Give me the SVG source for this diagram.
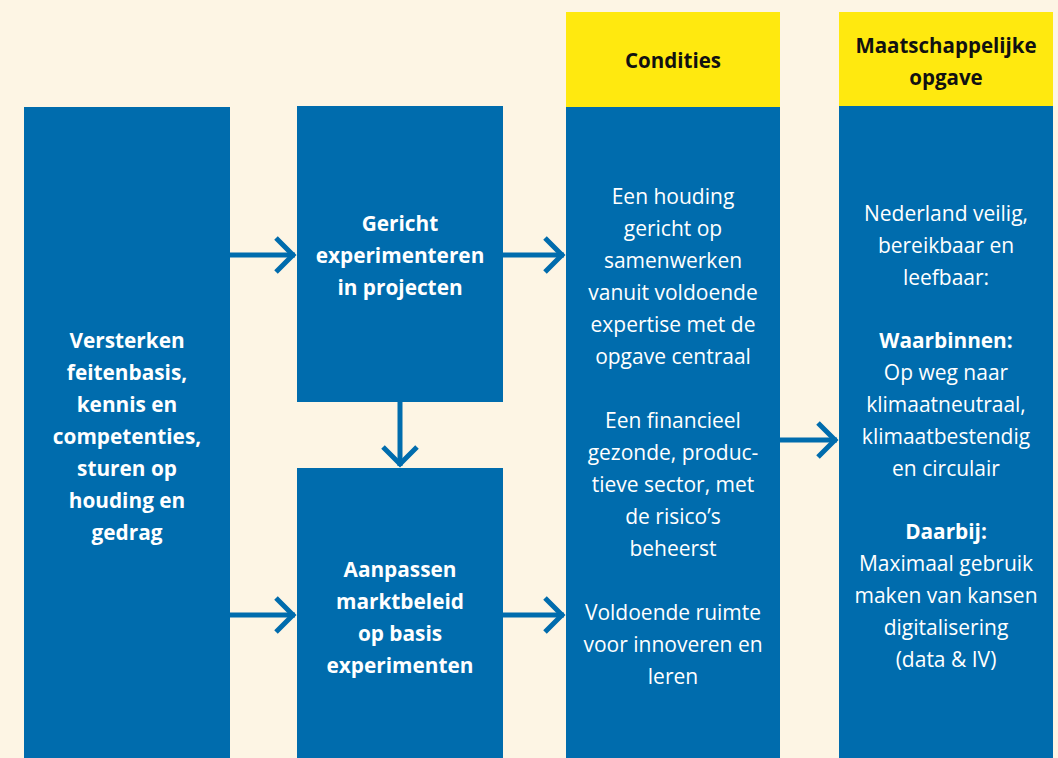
<svg xmlns="http://www.w3.org/2000/svg" width="1058" height="758" viewBox="0 0 1058 758">
<style>
.bg{fill:#FDF5E4}
.box{fill:#006CAD}
.hdr{fill:#FFE90F}
text{font-family:"Open Sans","Noto Sans","Liberation Sans",sans-serif;font-size:21px;text-anchor:middle}
.w{fill:#FFFFFF}
.b{font-weight:bold;font-size:20.8px}
.k{fill:#111111;font-weight:bold;font-size:20.5px}
.con{fill:none;stroke:#006CAD;stroke-width:5}
</style>
<defs>
<marker id="chev" viewBox="0 0 24 40" refX="22" refY="20" markerWidth="24" markerHeight="40" markerUnits="userSpaceOnUse" orient="auto">
<path d="M3,3 L20,20 L3,37" fill="none" stroke="#006CAD" stroke-width="5"/>
</marker>
</defs>
<rect class="bg" x="0" y="0" width="1058" height="758"/>
<g id="node-versterken">
<rect class="box" x="24" y="107" width="206" height="651"/>
<text class="w b"><tspan x="127" y="348">Versterken</tspan><tspan x="127" y="380">feitenbasis,</tspan><tspan x="127" y="412">kennis en</tspan><tspan x="127" y="444">competenties,</tspan><tspan x="127" y="476">sturen op</tspan><tspan x="127" y="508">houding en</tspan><tspan x="127" y="540">gedrag</tspan></text>
</g>
<g id="node-gericht">
<rect class="box" x="297" y="106" width="206" height="296"/>
<text class="w b"><tspan x="400" y="231">Gericht</tspan><tspan x="400" y="263">experimenteren</tspan><tspan x="400" y="295">in projecten</tspan></text>
</g>
<g id="node-aanpassen">
<rect class="box" x="297" y="468" width="206" height="290"/>
<text class="w b"><tspan x="400" y="577">Aanpassen</tspan><tspan x="400" y="609">marktbeleid</tspan><tspan x="400" y="641">op basis</tspan><tspan x="400" y="673">experimenten</tspan></text>
</g>
<g id="node-condities">
<rect class="hdr" x="566" y="12" width="214" height="95"/>
<rect class="box" x="566" y="107" width="214" height="651"/>
<text class="k"><tspan x="673" y="68">Condities</tspan></text>
<text class="w"><tspan x="673" y="204">Een houding</tspan><tspan x="673" y="236">gericht op</tspan><tspan x="673" y="268">samenwerken</tspan><tspan x="673" y="300">vanuit voldoende</tspan><tspan x="673" y="332">expertise met de</tspan><tspan x="673" y="364">opgave centraal</tspan><tspan x="673" y="428">Een financieel</tspan><tspan x="673" y="460">gezonde, produc-</tspan><tspan x="673" y="492">tieve sector, met</tspan><tspan x="673" y="524">de risico’s</tspan><tspan x="673" y="556">beheerst</tspan><tspan x="673" y="620">Voldoende ruimte</tspan><tspan x="673" y="652">voor innoveren en</tspan><tspan x="673" y="684">leren</tspan></text>
</g>
<g id="node-opgave">
<rect class="hdr" x="839" y="12" width="214" height="94"/>
<rect class="box" x="839" y="106" width="214" height="652"/>
<text class="k"><tspan x="946" y="53">Maatschappelijke</tspan><tspan x="946" y="85">opgave</tspan></text>
<text class="w"><tspan x="946" y="221">Nederland veilig,</tspan><tspan x="946" y="253">bereikbaar en</tspan><tspan x="946" y="285">leefbaar:</tspan><tspan x="946" y="348" class="b">Waarbinnen:</tspan><tspan x="946" y="380">Op weg naar</tspan><tspan x="946" y="412">klimaatneutraal,</tspan><tspan x="946" y="444">klimaatbestendig</tspan><tspan x="946" y="476">en circulair</tspan><tspan x="946" y="539" class="b">Daarbij:</tspan><tspan x="946" y="571">Maximaal gebruik</tspan><tspan x="946" y="603">maken van kansen</tspan><tspan x="946" y="635">digitalisering</tspan><tspan x="946" y="667">(data &amp; IV)</tspan></text>
</g>
<g id="connectors">
<line class="con" x1="230" y1="255" x2="295" y2="255" marker-end="url(#chev)"/>
<line class="con" x1="503" y1="255" x2="564" y2="255" marker-end="url(#chev)"/>
<line class="con" x1="230" y1="615" x2="295" y2="615" marker-end="url(#chev)"/>
<line class="con" x1="503" y1="615" x2="564" y2="615" marker-end="url(#chev)"/>
<line class="con" x1="780" y1="440" x2="837" y2="440" marker-end="url(#chev)"/>
<line class="con" x1="400" y1="402" x2="400" y2="466" marker-end="url(#chev)"/>
</g>
</svg>
